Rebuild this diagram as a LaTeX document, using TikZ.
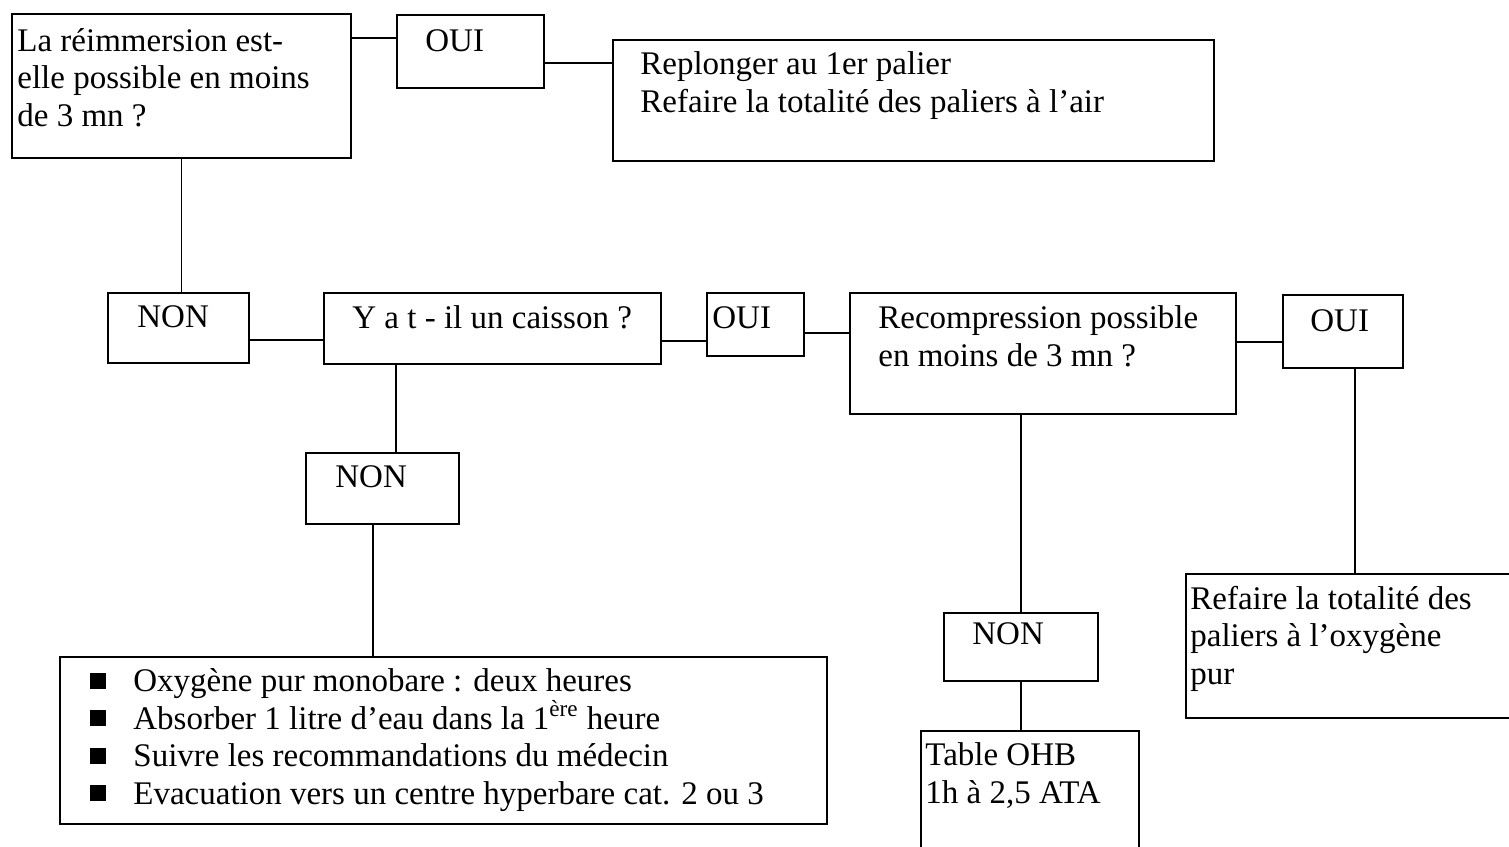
\documentclass[tikz,border=0pt]{standalone}
\usepackage{fontspec}
\setmainfont{Liberation Serif}
\tikzset{
  box/.style={draw, line width=0.9pt, inner sep=0pt, anchor=north west},
  txt/.style={anchor=base west, inner sep=0pt, align=left, font=\fontsize{16.5}{18.75}\selectfont},
  link/.style={line width=0.8pt}
}
\newcommand{\puce}{\raisebox{1.5pt}{\rule{8pt}{8pt}}\hspace{13.5pt}}

\begin{document}
\begin{tikzpicture}[x=0.5pt, y=-0.5pt]
  \clip (0,0) rectangle (1509,846);
  \fill[white] (0,0) rectangle (1509,846);

  % boxes
  \node[box, minimum width=169.5pt, minimum height=72pt]   (reim) at (11, 13)   {};
  \node[box, minimum width=73.5pt,  minimum height=36.5pt] (oui1) at (396, 14)  {};
  \node[box, minimum width=300.5pt, minimum height=60.5pt] (repl) at (612, 39)  {};
  \node[box, minimum width=70.5pt,  minimum height=35pt]   (non1) at (107, 292) {};
  \node[box, minimum width=168.5pt, minimum height=35.5pt] (cais) at (323, 292) {};
  \node[box, minimum width=48.5pt,  minimum height=31.5pt] (oui2) at (706, 292) {};
  \node[box, minimum width=193pt,   minimum height=60.5pt] (reco) at (849, 292) {};
  \node[box, minimum width=60pt,    minimum height=36.5pt] (oui3) at (1282, 294) {};
  \node[box, minimum width=76.5pt,  minimum height=35.5pt] (non2) at (305, 452) {};
  \node[box, minimum width=383.5pt, minimum height=83.5pt] (soins) at (59, 656) {};
  \node[box, minimum width=77pt,    minimum height=34pt]   (non3) at (943, 612) {};
  \node[box, minimum width=109pt,   minimum height=65pt]   (ohb)  at (920, 730) {};
  \node[box, minimum width=167.5pt, minimum height=72pt]   (oxy)  at (1185, 573) {};

  % texts (base = last line)
  \node[txt] (reim-t) at (17, 126)  {La réimmersion est-\\elle possible en moins\\de 3 mn ?};
  \node[txt] (oui1-t) at (425, 51)  {OUI};
  \node[txt] (repl-t) at (640, 112) {Replonger au 1er palier\\Refaire la totalité des paliers à l’air};
  \node[txt] (non1-t) at (137, 327) {NON};
  \node[txt] (cais-t) at (352, 328) {Y a t - il un caisson ?};
  \node[txt] (oui2-t) at (712, 328) {OUI};
  \node[txt] (reco-t) at (878, 366) {Recompression possible\\en moins de 3 mn ?};
  \node[txt] (oui3-t) at (1310, 331) {OUI};
  \node[txt] (non2-t) at (335, 487) {NON};
  \node[txt] (soins-t) at (90, 804) {\puce Oxygène pur monobare : deux heures\\
    \puce Absorber 1 litre d’eau dans la 1\textsuperscript{ère} heure\\
    \puce Suivre les recommandations du médecin\\
    \puce Evacuation vers un centre hyperbare cat. 2 ou 3};
  \node[txt] (non3-t) at (972, 644) {NON};
  \node[txt] (ohb-t)  at (925, 803) {Table OHB\\1h à 2,5 ATA};
  \node[txt] (oxy-t)  at (1190, 684) {Refaire la totalité des\\paliers à l’oxygène\\pur};

  % links
  \draw[link] ([yshift=6.75pt]oui1.west) -- ([yshift=6.75pt]oui1.west -| reim.east);
  \draw[link] ([yshift=-5.75pt]oui1.east) -- ([yshift=-5.75pt]oui1.east -| repl.west);
  \draw[link] (reim.south) -- (reim.south |- non1.north);
  \draw[link] ([yshift=-6pt]non1.east) -- ([yshift=-6pt]non1.east -| cais.west);
  \draw[link] ([yshift=-6.25pt]cais.east) -- ([yshift=-6.25pt]cais.east -| oui2.west);
  \draw[link] ([yshift=-4.25pt]oui2.east) -- ([yshift=-4.25pt]oui2.east -| reco.west);
  \draw[link] ([yshift=5.75pt]reco.east) -- ([yshift=5.75pt]reco.east -| oui3.west);
  \draw[link] ([xshift=6pt]oui3.south) -- ([xshift=6pt]oui3.south |- oxy.north);
  \draw[link] (non3.north) -- (non3.north |- reco.south);
  \draw[link] (non3.south) -- (non3.south |- ohb.north);
  \draw[link] ([xshift=6.75pt]non2.north) -- ([xshift=6.75pt]non2.north |- cais.south);
  \draw[link] ([xshift=-4.75pt]non2.south) -- ([xshift=-4.75pt]non2.south |- soins.north);
\end{tikzpicture}
\end{document}
